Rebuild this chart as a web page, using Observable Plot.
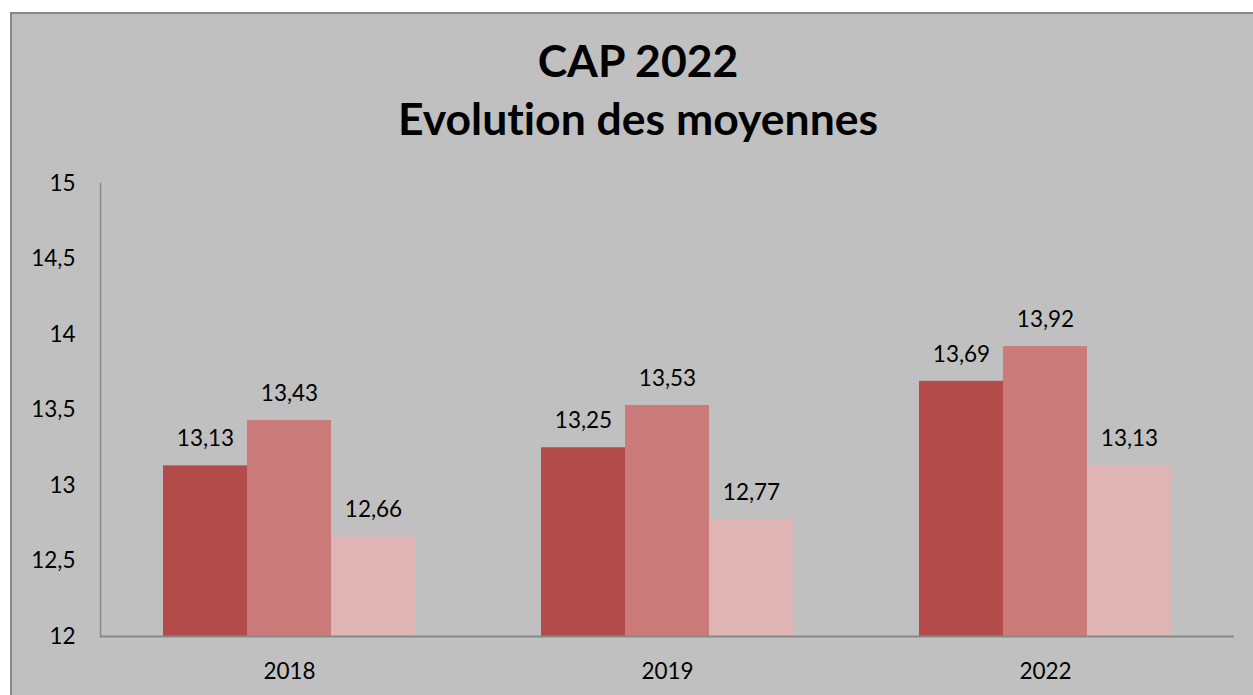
<!DOCTYPE html>
<html>
<head>
<meta charset="utf-8">
<script src="https://cdn.jsdelivr.net/npm/d3@7"></script>
<script src="https://cdn.jsdelivr.net/npm/@observablehq/plot@0.6"></script>
<style>
  html, body { margin: 0; padding: 0; background: #fff; }
  #wrap { position: relative; width: 1253px; height: 695px; overflow: hidden; background: #fff; font-variant-ligatures: none; }
  #frame { position: absolute; left: 10px; top: 12px; width: 1300px; height: 760px; background: #c0c0c0; border: 2px solid #888; box-sizing: border-box; }
  #title { position: absolute; left: 0; top: 31px; width: 1276px; text-align: center; font-family: Lato, "Open Sans", sans-serif; font-weight: bold; font-size: 44.5px; line-height: 58px; color: #000; font-variant-ligatures: none; }
  #chart { position: absolute; left: 0; top: 150px; }
  #chart svg text { font-variant-ligatures: none; }
</style>
</head>
<body>
<div id="wrap">
  <div id="frame"></div>
  <div id="title">CAP 2022<br>Evolution des moyennes</div>
  <div id="chart"></div>
</div>
<script>
const years = ["2018", "2019", "2022"];
const seriesNames = ["Série 1", "Série 2", "Série 3"];
const serie1 = [13.13, 13.25, 13.69];
const serie2 = [13.43, 13.53, 13.92];
const serie3 = [12.66, 12.77, 13.13];
const yTicks = [12, 12.5, 13, 13.5, 14, 14.5, 15];
const colors = ["#b24b4a", "#cb7c7a", "#dfb4b4"];

const yMin = yTicks[0];
const yMax = yTicks[yTicks.length - 1];
const allSeries = [serie1, serie2, serie3];
const rows = years.flatMap((yr, i) => allSeries.map((s, j) => ({year: yr, serie: seriesNames[j], value: s[i]})));
const comma = d => String(d).replace(".", ",");

const chart = Plot.plot({
  width: 1253,
  height: 545,
  marginLeft: 99,
  marginRight: 18,
  marginTop: 33,
  marginBottom: 59,
  style: {background: "transparent", fontFamily: "Lato, 'Open Sans', sans-serif", fontSize: "22.5px", color: "#000"},
  fx: {domain: years, padding: 0, label: null, axis: "bottom", tickSize: 0, tickPadding: 27},
  x: {domain: seriesNames, paddingInner: 0, paddingOuter: 0.75, axis: null},
  y: {domain: [yMin, yMax], ticks: yTicks, tickFormat: comma, tickSize: 0, tickPadding: 25, label: null},
  color: {domain: seriesNames, range: colors},
  marks: [
    Plot.barY(rows, {fx: "year", x: "serie", y1: yMin, y2: "value", fill: "serie"}),
    Plot.text(rows, {fx: "year", x: "serie", y: "value", text: d => d.value.toFixed(2).replace(".", ","), dy: -27, fontSize: 22.5, fill: "#000"}),
    Plot.ruleY([yMin], {stroke: "#888", strokeWidth: 2}),
    Plot.frame({anchor: "left", facetAnchor: "left", stroke: "#888", strokeWidth: 1.5})
  ]
});
document.getElementById("chart").appendChild(chart);
</script>
</body>
</html>
